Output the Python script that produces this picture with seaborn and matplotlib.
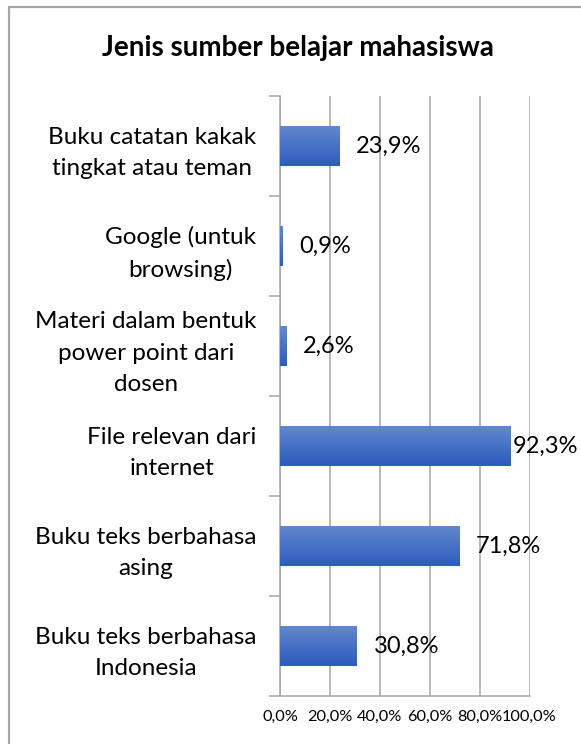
import numpy as np
import pandas as pd
import matplotlib
matplotlib.use("Agg")
import matplotlib.pyplot as plt
import seaborn as sns
from matplotlib.ticker import FixedLocator, FuncFormatter
from matplotlib.lines import Line2D

categories = [
    "Buku catatan kakak\ntingkat atau teman",
    "Google (untuk\nbrowsing)",
    "Materi dalam bentuk\npower point dari\ndosen",
    "File relevan dari\ninternet",
    "Buku teks berbahasa\nasing",
    "Buku teks berbahasa\nIndonesia",
]
values = [23.9, 0.9, 2.6, 92.3, 71.8, 30.8]
x_ticks = [0, 20, 40, 60, 80, 100]
title = "Jenis sumber belajar mahasiswa"

sns.set_theme(style="white")
plt.rcParams["font.family"] = ["Lato", "DejaVu Sans"]

df = pd.DataFrame({"kategori": categories, "nilai": values})

fig = plt.figure(figsize=(5.81, 7.44), dpi=100)
ax = fig.add_axes([280/581, 1-696/744, 249.5/581, 600/744])

sns.barplot(data=df, y="kategori", x="nilai", order=categories, orient="h",
            color="#4472C4", width=0.41, ax=ax, zorder=3)

# gradient fill on bars
grad = np.linspace(0, 1, 64).reshape(-1, 1)
cmap = matplotlib.colors.LinearSegmentedColormap.from_list("g", ["#6388cf", "#2c5cbd"])
for p in ax.patches:
    x0, y0 = p.get_x(), p.get_y()
    w, h = p.get_width(), p.get_height()
    im = ax.imshow(grad, cmap=cmap, aspect="auto", extent=[x0, x0 + w, y0 + h, y0],
                   zorder=3, interpolation="bicubic")
    im.set_clip_path(p)
    p.set_facecolor("none")
    p.set_edgecolor("none")

ax.set_xlim(0, 100)
ax.set_ylim(len(categories) - 0.5, -0.5)
ax.set_xticks(x_ticks)
ax.xaxis.set_major_formatter(FuncFormatter(lambda v, pos: f"{v:.1f}%".replace(".", ",")))
ax.grid(axis="x", color="#a6a6a6", linewidth=1.1, zorder=0)
ax.grid(axis="y", visible=False)
ax.set_xlabel("")
ax.set_ylabel("")

for s in ["top", "right"]:
    ax.spines[s].set_visible(False)
for s in ["left", "bottom"]:
    ax.spines[s].set_color("#a6a6a6")
    ax.spines[s].set_linewidth(1.1)

ax.tick_params(axis="x", which="major", length=6, width=1.1, color="#a6a6a6",
               labelsize=11.8, labelcolor="black", pad=4, direction="out")
ax.tick_params(axis="y", which="major", length=0, labelsize=17.5, labelcolor="black", pad=17)
ax.yaxis.set_minor_locator(FixedLocator(np.arange(-0.5, len(categories), 1.0)))
ax.tick_params(axis="y", which="minor", length=8, width=1.1, color="#a6a6a6", left=True)
for lab in ax.get_yticklabels():
    lab.set_multialignment("center")
    lab.set_linespacing(1.6)

for i, v in enumerate(values):
    off = 12 if v < 85 else 2
    ax.annotate(f"{v:.1f}%".replace(".", ","), xy=(v, i), xytext=(off, 0),
                textcoords="offset points", va="center", ha="left",
                fontsize=17, color="black", zorder=5, annotation_clip=False)

fig.text(298/581, 1-48/744, title, ha="center", va="center", fontsize=20,
         fontweight="bold", color="black")

# chart border
fig.add_artist(Line2D([9/581, 9/581], [0, 1-7/744], transform=fig.transFigure,
                      color="#a6a6a6", linewidth=1.6))
fig.add_artist(Line2D([9/581, 1], [1-7/744, 1-7/744], transform=fig.transFigure,
                      color="#a6a6a6", linewidth=1.6))

fig.savefig("out.png", dpi=100)
